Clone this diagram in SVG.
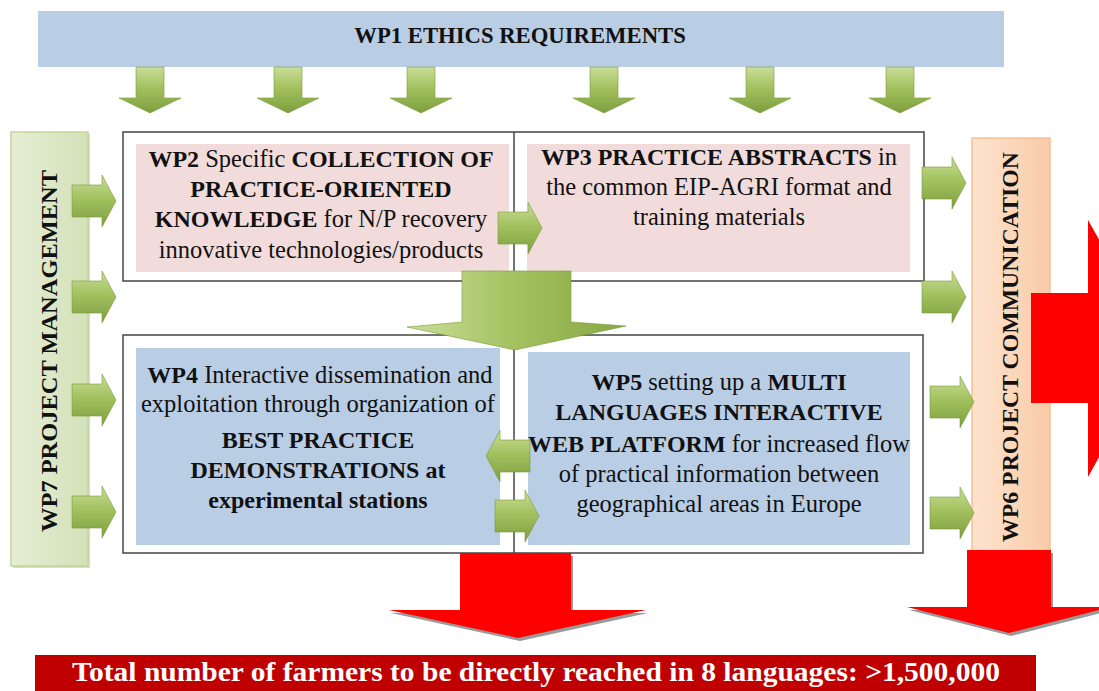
<svg xmlns="http://www.w3.org/2000/svg" width="1099" height="691" viewBox="0 0 1099 691">
<defs>
<linearGradient id="gGreen" x1="0" y1="0" x2="0" y2="1">
<stop offset="0" stop-color="#c9de98"/>
<stop offset="0.45" stop-color="#a3c15f"/>
<stop offset="1" stop-color="#7e9e3e"/>
</linearGradient>
<linearGradient id="gGreenH" x1="0" y1="0" x2="1" y2="0">
<stop offset="0" stop-color="#c9de98"/>
<stop offset="0.5" stop-color="#a3c15f"/>
<stop offset="1" stop-color="#86a844"/>
</linearGradient>
<linearGradient id="gWp7" x1="0" y1="0" x2="1" y2="0">
<stop offset="0" stop-color="#e6eed5"/>
<stop offset="1" stop-color="#d3e1b8"/>
</linearGradient>
<linearGradient id="gWp6" x1="0" y1="0" x2="1" y2="0">
<stop offset="0" stop-color="#fde3cf"/>
<stop offset="1" stop-color="#f9cba8"/>
</linearGradient>
<path id="aDown" d="M-14,0 H14 V31 H31 L0,46 L-31,31 H-14 Z"/>
<path id="aRight" d="M0,-16 H30 V-26 L44,0 L30,26 V16 H0 Z"/>
</defs>
<style>
text{font-family:"Liberation Serif","Times New Roman",serif;fill:#111;}
.t{font-size:24.5px;text-anchor:middle;}
.b{font-weight:bold;font-size:24px;}
.frame{fill:#fff;stroke:#444;stroke-width:1.5;}
.pink{fill:#f2dcdb;}
.blue{fill:#b9cde5;}
.ga{fill:url(#gGreen);stroke:#7a9a3a;stroke-width:0.6;}
.gh{fill:url(#gGreenH);stroke:#7a9a3a;stroke-width:0.6;}
.red{fill:#ff0000;}
.shadow{fill:#9a9a9a;}
</style>

<g id="wp1">
<rect x="38" y="11" width="966" height="56" fill="#b9cde5"/>
<text x="520" y="43" class="t b" style="font-size:22.7px">WP1 ETHICS REQUIREMENTS</text>
</g>

<g id="wp7">
<rect x="13" y="134" width="77" height="434" fill="#b9c8a0" opacity="0.6"/>
<rect x="11" y="132" width="77" height="434" fill="url(#gWp7)" stroke="#c3d69b" stroke-width="1.5"/>
<text transform="translate(57,351) rotate(-90)" class="t b" textLength="362" lengthAdjust="spacingAndGlyphs">WP7 PROJECT MANAGEMENT</text>
</g>

<g id="wp6">
<rect x="972" y="138" width="78" height="414" fill="url(#gWp6)" stroke="#fac090" stroke-width="1.5"/>
<text transform="translate(1018,347) rotate(-90)" class="t b" textLength="390" lengthAdjust="spacingAndGlyphs">WP6 PROJECT COMMUNICATION</text>
</g>

<g id="frames">
<rect class="frame" x="123" y="132" width="801" height="149"/>
<rect class="frame" x="123" y="335" width="800" height="218"/>
<line x1="514" y1="132" x2="514" y2="553" stroke="#444" stroke-width="1.5"/>
</g>

<g id="wp2">
<rect class="pink" x="136" y="144" width="373" height="128"/>
<text class="t" x="321" y="167"><tspan class="b">WP2</tspan> Specific <tspan class="b">COLLECTION OF</tspan></text>
<text class="t b" x="321" y="197">PRACTICE-ORIENTED</text>
<text class="t" x="321" y="227"><tspan class="b">KNOWLEDGE</tspan> for N/P recovery</text>
<text class="t" x="321" y="258">innovative technologies/products</text>
</g>

<g id="wp3">
<rect class="pink" x="527" y="144" width="383" height="128"/>
<text class="t" x="719" y="165"><tspan class="b">WP3 PRACTICE ABSTRACTS</tspan> in</text>
<text class="t" x="719" y="195">the common EIP-AGRI format and</text>
<text class="t" x="719" y="225">training materials</text>
</g>

<g id="wp4">
<rect class="blue" x="136" y="348" width="364" height="197"/>
<text class="t" x="320" y="383"><tspan class="b">WP4</tspan> Interactive dissemination and</text>
<text class="t" x="318" y="412">exploitation through organization of</text>
<text class="t b" x="318" y="448">BEST PRACTICE</text>
<text class="t b" x="318" y="478">DEMONSTRATIONS at</text>
<text class="t b" x="318" y="508">experimental stations</text>
</g>

<g id="wp5">
<rect class="blue" x="528" y="352" width="382" height="193"/>
<text class="t" x="719" y="390"><tspan class="b">WP5</tspan> setting up a <tspan class="b">MULTI</tspan></text>
<text class="t b" x="719" y="420">LANGUAGES INTERACTIVE</text>
<text class="t" x="719" y="452"><tspan class="b">WEB PLATFORM</tspan> for increased flow</text>
<text class="t" x="719" y="482">of practical information between</text>
<text class="t" x="719" y="512">geographical areas in Europe</text>
</g>

<g id="connectors">
<use href="#aDown" class="ga" transform="translate(150,67)"/>
<use href="#aDown" class="ga" transform="translate(288,67)"/>
<use href="#aDown" class="ga" transform="translate(421,67)"/>
<use href="#aDown" class="ga" transform="translate(604,67)"/>
<use href="#aDown" class="ga" transform="translate(760,67)"/>
<use href="#aDown" class="ga" transform="translate(900,67)"/>

<use href="#aRight" class="ga" transform="translate(72,201)"/>
<use href="#aRight" class="ga" transform="translate(72,297)"/>
<use href="#aRight" class="ga" transform="translate(72,400)"/>
<use href="#aRight" class="ga" transform="translate(72,512)"/>

<use href="#aRight" class="ga" transform="translate(922,183)"/>
<use href="#aRight" class="ga" transform="translate(922,297)"/>
<use href="#aRight" class="ga" transform="translate(930,402)"/>
<use href="#aRight" class="ga" transform="translate(930,513)"/>

<use href="#aRight" class="ga" transform="translate(498,228)"/>
<use href="#aRight" class="ga" transform="translate(530,456) scale(-1,1)"/>
<use href="#aRight" class="ga" transform="translate(495,516)"/>

<path class="gh" d="M462,271 H571 V322 L626,326 L515,350 L407,327 L462,322 Z"/>

<path class="red" d="M1031,293 H1088 V220 L1160,348 L1088,477 V403 H1031 Z"/>

<path class="shadow" d="M462,556 H573 V613 H648 L520,641 L391,613 H462 Z"/>
<path class="red" d="M460,553 H571 V610 H646 L518,638 L389,610 H460 Z"/>

<path class="shadow" d="M969,553 H1053 V610 H1113 L1011,636 L909,610 H969 Z"/>
<path class="red" d="M967,550 H1051 V607 H1111 L1009,633 L907,607 H967 Z"/>
</g>

<g id="total">
<rect x="35" y="655" width="1001" height="36" fill="#c00000"/>
<text x="72" y="681" font-size="27" font-weight="bold" style="fill:#fff" textLength="928" lengthAdjust="spacingAndGlyphs">Total number of farmers to be directly reached in 8 languages: &gt;1,500,000</text>
</g>
</svg>
